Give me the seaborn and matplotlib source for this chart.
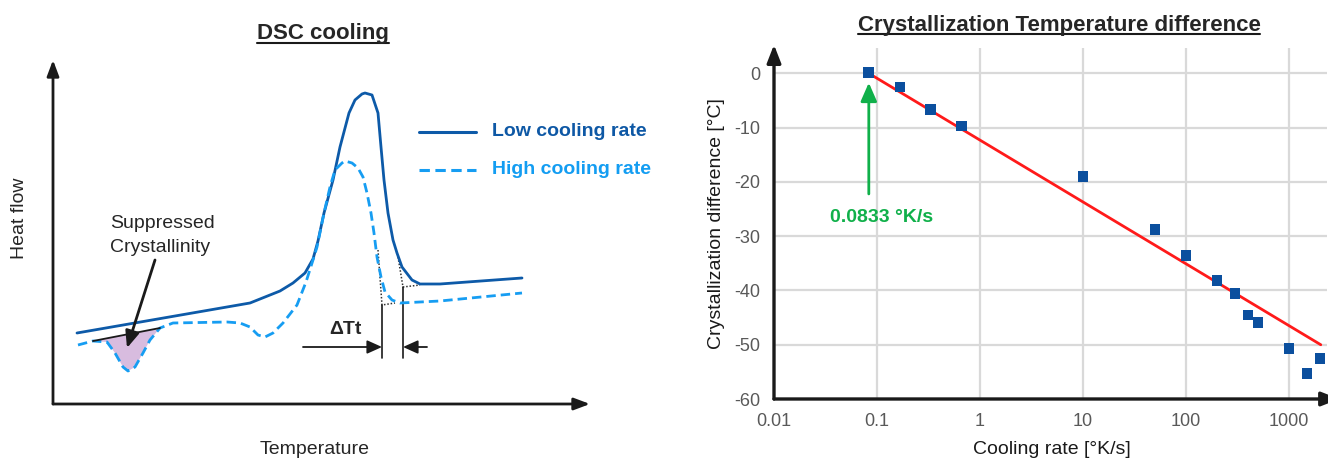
import matplotlib
matplotlib.use("Agg")
import matplotlib.pyplot as plt
import seaborn as sns
import pandas as pd
from matplotlib.lines import Line2D

# ---------------- data ----------------
# DSC schematic (arbitrary units: temperature, heat flow)
temp_low = [24, 197, 212, 227, 240, 252, 260, 265, 271, 280, 287, 296, 302, 309, 312, 319,
            325, 328, 331, 335, 340, 344, 349, 359, 367, 387, 469]
flow_low = [71, 101, 107, 113, 121, 131, 145, 163, 191, 224, 257, 291, 304, 310, 311, 309,
            291, 257, 224, 191, 164, 151, 137, 124, 120, 120, 126]
temp_high = [25, 40, 54, 62, 70, 75, 82, 90, 97, 107, 120, 174, 187, 197, 205, 212, 220,
             230, 237, 244, 253, 260, 264, 271, 277, 282, 289, 292, 299, 305, 310, 314,
             318, 321, 324, 328, 332, 339, 347, 387, 469]
flow_high = [59, 63, 62, 51, 37, 33, 37, 51, 64, 76, 81, 82, 81, 77, 69, 67, 71,
             81, 90, 99, 122, 144, 157, 191, 217, 234, 241, 243, 241, 236, 227, 211,
             191, 171, 147, 127, 112, 104, 101, 103, 111]
tangent_temp = [40, 107]
tangent_flow = [63, 76]
onset_low = [(345, 147), (350, 117), (367, 119)]
onset_high = [(325, 154), (329, 99), (342, 101)]

# Crystallization temperature difference
rate = [0.0833, 0.167, 0.333, 0.667, 10, 50, 100, 200, 300, 400, 500, 1000, 1500, 2000]
diff = [0.2, -2.5, -6.6, -9.7, -19.0, -28.8, -33.6, -38.2, -40.5, -44.5, -45.9, -50.7, -55.3, -52.6]
fit_rate = [0.089, 2040]
fit_diff = [-0.3, -50.0]
x_ticks = [0.01, 0.1, 1, 10, 100, 1000]
x_tick_labels = ["0.01", "0.1", "1", "10", "100", "1000"]
y_ticks = [-60, -50, -40, -30, -20, -10, 0]
y_tick_labels = ["-60", "-50", "-40", "-30", "-20", "-10", "0"]

# ---------------- style ----------------
sns.set_theme(style="white")
plt.rcParams["font.family"] = ["Liberation Sans", "DejaVu Sans"]
plt.rcParams["axes.unicode_minus"] = False

C_LOW = "#0D5AA8"
C_HIGH = "#169DF2"
C_FILL = "#D8BCDF"
C_MARK = "#0B4F9E"
C_RED = "#FF1A1A"
C_GREEN = "#10B04A"
C_GRID = "#D9D9D9"
C_TICK = "#595959"

W, H = 1328, 459
fig = plt.figure(figsize=(W / 100, H / 100), dpi=100)

# ---------------- left panel: DSC schematic ----------------
axL = fig.add_axes([0, 0, 0.5, 1])
axL.set_xlim(-53, 611)
axL.set_ylim(-55, 404)
axL.axis("off")

def arrow(ax, start, tip, lw=2.0, color="k", hl=0.8, hw=0.3, ms=12):
    ax.annotate("", xy=tip, xytext=start, annotation_clip=False,
                arrowprops=dict(arrowstyle=f"-|>,head_length={hl},head_width={hw}",
                                lw=lw, color=color, mutation_scale=ms,
                                shrinkA=0, shrinkB=0))

# axes arrows
arrow(axL, (0, 0), (0, 344))
arrow(axL, (0, 0), (537, 0))

# fill of suppressed crystallinity
idx = [i for i, t in enumerate(temp_high) if tangent_temp[0] <= t <= tangent_temp[1]]
axL.fill([temp_high[i] for i in idx], [flow_high[i] for i in idx],
         color=C_FILL, lw=0, zorder=1)

df_low = pd.DataFrame({"T": temp_low, "HF": flow_low})
df_high = pd.DataFrame({"T": temp_high, "HF": flow_high})
sns.lineplot(data=df_low, x="T", y="HF", ax=axL, color=C_LOW, lw=2.0,
             sort=False, estimator=None, zorder=3)
sns.lineplot(data=df_high, x="T", y="HF", ax=axL, color=C_HIGH, lw=2.0,
             sort=False, estimator=None, zorder=3)
axL.lines[-1].set_linestyle((0, (3.4, 1.8)))
for ln in axL.lines[-2:]:
    ln.set_solid_joinstyle("round")
    ln.set_dash_joinstyle("round")
axL.set_xlabel("")
axL.set_ylabel("")

# tangent line
axL.plot(tangent_temp, tangent_flow, color="k", lw=1.3, zorder=4)

# onset construction (dotted)
for pts in (onset_low, onset_high):
    axL.plot([p[0] for p in pts], [p[1] for p in pts], color="#333333",
             lw=1.1, ls=(0, (1, 1.2)), zorder=2)
# vertical markers
axL.plot([onset_high[1][0]] * 2, [onset_high[1][1], 46], color="k", lw=1.2)
axL.plot([onset_low[1][0]] * 2, [onset_low[1][1], 46], color="k", lw=1.2)
arrow(axL, (250, 57), (onset_high[1][0], 57), lw=1.3, hl=1.0, hw=0.45, ms=9)
arrow(axL, (374, 57), (onset_low[1][0], 57), lw=1.3, hl=1.0, hw=0.45, ms=9)
axL.text(292, 75, "ΔTt", ha="center", va="center", fontsize=14, fontweight="bold")

# suppressed crystallinity annotation
axL.text(57, 180, "Suppressed", ha="left", va="center", fontsize=14)
axL.text(57, 156, "Crystallinity", ha="left", va="center", fontsize=14)
arrow(axL, (102, 144), (74, 56), lw=2.0, hl=1.0, hw=0.42, ms=10)

# legend
axL.plot([366, 423], [272, 272], color=C_LOW, lw=2.2, clip_on=False)
axL.plot([366, 423], [234, 234], color=C_HIGH, lw=2.2, ls=(0, (3.4, 1.8)), clip_on=False)
axL.text(439, 272, "Low cooling rate", ha="left", va="center", fontsize=14,
         fontweight="bold", color="#0E58A5", clip_on=False)
axL.text(439, 234, "High cooling rate", ha="left", va="center", fontsize=14,
         fontweight="bold", color="#139DF2", clip_on=False)

# axis labels
axL.text(-34, 186, "Heat flow", rotation=90, ha="center", va="center", fontsize=14)
axL.text(262, -46, "Temperature", ha="center", va="center", fontsize=14)

t_left = fig.text(323 / W, 1 - 39.3 / H, "DSC cooling", ha="center", va="baseline",
                  fontsize=16, fontweight="bold")

# ---------------- right panel ----------------
axR = fig.add_axes([774 / W, 60 / H, 553 / W, 351 / H])
axR.set_xscale("log")
axR.set_xlim(0.01, 10 ** 3.37)
axR.set_ylim(-60, 4.7)
for s in axR.spines.values():
    s.set_visible(False)
axR.set_xticks(x_ticks)
axR.set_xticklabels(x_tick_labels)
axR.set_yticks(y_ticks)
axR.set_yticklabels(y_tick_labels)
axR.minorticks_off()
axR.tick_params(axis="both", length=0, labelsize=13, labelcolor=C_TICK)
axR.tick_params(axis="x", pad=10)
axR.tick_params(axis="y", pad=10)
axR.grid(True, color=C_GRID, lw=1.6)
axR.set_axisbelow(True)

sns.lineplot(x=fit_rate, y=fit_diff, ax=axR, color=C_RED, lw=2.0,
             sort=False, estimator=None, zorder=3)
sns.scatterplot(x=rate, y=diff, ax=axR, marker="s", s=60, color=C_MARK,
                edgecolor="none", zorder=4, clip_on=False)

# axes arrows
arrow(axR, (0.01, -60), (0.01, 5.3), lw=2.4, hl=0.9, hw=0.35, ms=12)
arrow(axR, (0.01, -60), (10 ** 3.49, -60), lw=2.4, hl=0.9, hw=0.35, ms=12)

# green annotation
arrow(axR, (0.0833, -22.2), (0.0833, -1.7), lw=2.0, color=C_GREEN, hl=0.8, hw=0.35, ms=14)
axR.text(0.112, -26.5, "0.0833 °K/s", ha="center", va="center", fontsize=14,
         fontweight="bold", color=C_GREEN)

axR.set_xlabel("Cooling rate [°K/s]", fontsize=14, color="k")
axR.set_ylabel("Crystallization difference [°C]", fontsize=14, color="k")
axR.xaxis.set_label_coords((1052 - 774) / 553, (399 - 450) / 351)
axR.xaxis.label.set_va("center")
axR.yaxis.set_label_coords((716.5 - 774) / 553, (399 - 224) / 351)
axR.yaxis.label.set_va("center")
axR.yaxis.label.set_ha("center")

t_right = fig.text(1059 / W, 1 - 30.7 / H, "Crystallization Temperature difference",
                   ha="center", va="baseline", fontsize=16, fontweight="bold")

# underlines
fig.canvas.draw()
for t, ypx in ((t_left, 43.3), (t_right, 33.5)):
    bb = t.get_window_extent()
    fig.add_artist(Line2D([bb.x0 / W, bb.x1 / W], [1 - ypx / H] * 2,
                          transform=fig.transFigure, color="k", lw=1.5))

fig.savefig("out.png", dpi=100)
